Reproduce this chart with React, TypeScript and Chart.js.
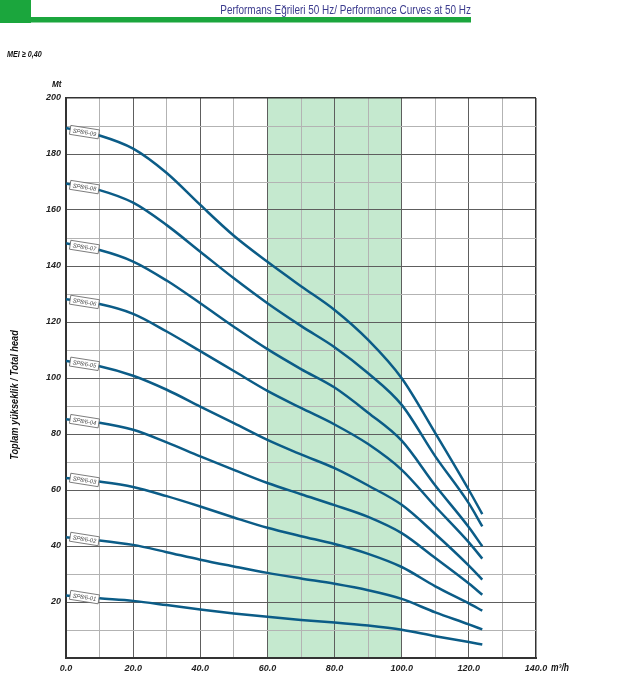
import React, { useEffect, useRef } from "react";
import { Chart, registerables } from "chart.js";

Chart.register(...registerables);

const flows = [0, 10, 20, 30, 40, 50, 60, 70, 80, 90, 100, 110, 120, 124];
const head09 = [189.3, 186.6, 181.9, 173.2, 161.8, 150.8, 141.5, 132.8, 124.3, 113.6, 99.9, 80.3, 60.0, 51.4];
const head08 = [169.5, 167.1, 162.6, 154.6, 145.1, 135.6, 126.7, 118.6, 111, 101.7, 90.4, 72.0, 55.2, 47.0];
const head07 = [148.1, 145.7, 141.6, 134.8, 126.7, 118.3, 110.3, 103.2, 96.6, 87.6, 77.6, 61.6, 46.7, 39.9];
const head06 = [128.1, 126.4, 122.9, 116.6, 109.6, 102.5, 95.4, 89.3, 83.4, 76.4, 67.2, 54.1, 41.3, 35.5];
const head05 = [106.1, 104.2, 100.8, 95.8, 89.8, 83.9, 77.9, 72.7, 67.8, 61.6, 54.7, 44.3, 33.0, 28.0];
const head04 = [85.3, 84.0, 81.5, 77.0, 72.0, 67.2, 62.5, 58.5, 54.6, 50.4, 44.6, 35.7, 26.6, 22.6];
const head03 = [64.3, 63.0, 61.1, 57.8, 54.1, 50.2, 46.5, 43.5, 40.7, 37.2, 32.5, 25.6, 19.5, 16.9];
const head02 = [43.1, 42.0, 40.4, 37.8, 35.1, 32.7, 30.4, 28.4, 26.5, 24.2, 21.1, 16.3, 12.0, 10.2];
const head01 = [22.3, 21.3, 20.4, 18.9, 17.3, 15.9, 14.7, 13.6, 12.7, 11.6, 10.1, 7.8, 5.7, 4.8];

const modelNames = ["SP8/6-09", "SP8/6-08", "SP8/6-07", "SP8/6-06", "SP8/6-05", "SP8/6-04", "SP8/6-03", "SP8/6-02", "SP8/6-01"];
const heads = [head09, head08, head07, head06, head05, head04, head03, head02, head01];

const bandRange = [60, 100];
const titleText = "Performans Eğrileri 50 Hz/ Performance Curves at 50 Hz";
const meiText = "MEI ≥ 0,40";
const yUnit = "Mt";
const xUnit = "m³/h";
const yTitle = "Toplam yükseklik / Total head";

const FONT = '"Liberation Sans", Arial, sans-serif';
const CURVE = "#0b5c87";

function condensedText(ctx: any, text: string, x: number, y: number, sx: number, align: string) {
  ctx.save();
  ctx.translate(x, y);
  ctx.scale(sx, 1);
  ctx.textAlign = align;
  ctx.fillText(text, 0, 0);
  ctx.restore();
}

const decorPlugin = {
  id: "decor",
  beforeDraw(chart: any) {
    const { ctx, chartArea, scales } = chart;
    ctx.save();
    ctx.fillStyle = "#ffffff";
    ctx.fillRect(0, 0, chart.width, chart.height);
    const x0 = scales.x.getPixelForValue(bandRange[0]);
    const x1 = scales.x.getPixelForValue(bandRange[1]);
    ctx.fillStyle = "#c5e9cf";
    ctx.fillRect(x0, chartArea.top, x1 - x0, chartArea.bottom - chartArea.top);
    // header
    ctx.fillStyle = "#1ba63d";
    ctx.fillRect(0, 0, 31, 23);
    ctx.fillRect(0, 17, 471, 5.5);
    ctx.fillStyle = "#3c3c8e";
    ctx.font = "12px " + FONT;
    ctx.textBaseline = "alphabetic";
    condensedText(ctx, titleText, 471, 13.5, 0.83, "right");
    ctx.fillStyle = "#111";
    ctx.font = "bold italic 9px " + FONT;
    condensedText(ctx, meiText, 7, 57, 0.8, "left");
    condensedText(ctx, yUnit, 52, 87, 0.9, "left");
    ctx.font = "bold italic 10px " + FONT;
    condensedText(ctx, xUnit, 551, 671, 0.85, "left");
    ctx.save();
    ctx.translate(18, 395);
    ctx.rotate(-Math.PI / 2);
    ctx.font = "bold italic 10px " + FONT;
    condensedText(ctx, yTitle, 0, 0, 0.92, "center");
    ctx.restore();
    ctx.restore();
  },
  afterDatasetsDraw(chart: any) {
    const { ctx, scales } = chart;
    const lx = 5.5;
    ctx.save();
    chart.data.datasets.forEach((ds: any, i: number) => {
      const d = ds.data;
      const t = (lx - d[0].x) / (d[1].x - d[0].x);
      const v = d[0].y + (d[1].y - d[0].y) * t;
      const px = scales.x.getPixelForValue(lx);
      const py = scales.y.getPixelForValue(v);
      ctx.save();
      ctx.translate(px, py);
      ctx.rotate((9 * Math.PI) / 180);
      ctx.fillStyle = "#ffffff";
      ctx.fillRect(-14.5, -4.5, 29, 9);
      ctx.strokeStyle = "#666";
      ctx.lineWidth = 0.8;
      ctx.strokeRect(-14.5, -4.5, 29, 9);
      ctx.fillStyle = "#444";
      ctx.font = "italic 6px " + FONT;
      ctx.textBaseline = "middle";
      condensedText(ctx, modelNames[i], 0, 0.5, 0.95, "center");
      ctx.restore();
    });
    ctx.restore();
  },
};

export default function App() {
  const ref = useRef<HTMLCanvasElement | null>(null);
  useEffect(() => {
    if (!ref.current) return;
    const datasets = heads.map((h, i) => ({
      label: modelNames[i],
      data: flows.map((f, j) => ({ x: f, y: h[j] })),
      borderColor: CURVE,
      borderWidth: 2.5,
      pointRadius: 0,
      fill: false,
      cubicInterpolationMode: "monotone" as const,
    }));
    const tickFont = { family: FONT, size: 9, weight: "bold" as const, style: "italic" as const };
    const chart = new Chart(ref.current, {
      type: "line",
      data: { datasets },
      options: {
        animation: false,
        responsive: false,
        devicePixelRatio: 1,
        layout: { padding: { top: 98, right: 93, left: 0, bottom: 0 } },
        plugins: { legend: { display: false }, tooltip: { enabled: false } },
        scales: {
          x: {
            type: "linear",
            min: 0,
            max: 140,
            afterFit: (s: any) => {
              s.height = 17;
            },
            border: { display: true, color: "#333", width: 2 },
            grid: {
              drawTicks: false,
              color: (c: any) => (c.tick.value === 140 ? "#333" : c.tick.value % 20 === 0 ? "#5e5e5e" : "#b3b3b3"),
              lineWidth: (c: any) => (c.tick.value === 140 ? 1.5 : 1),
            },
            ticks: {
              stepSize: 10,
              autoSkip: false,
              maxRotation: 0,
              padding: 5,
              color: "#222",
              font: tickFont,
              callback: (v: any) => (Number(v) % 20 === 0 ? Number(v).toFixed(1) : ""),
            },
          },
          y: {
            min: 0,
            max: 200,
            afterFit: (s: any) => {
              s.width = 66;
            },
            border: { display: true, color: "#333", width: 2 },
            grid: {
              drawTicks: false,
              color: (c: any) => (c.tick.value === 200 ? "#333" : c.tick.value % 20 === 0 ? "#5e5e5e" : "#b3b3b3"),
              lineWidth: (c: any) => (c.tick.value === 200 ? 1.5 : 1),
            },
            ticks: {
              stepSize: 10,
              autoSkip: false,
              padding: 5,
              color: "#222",
              font: tickFont,
              callback: (v: any) => (Number(v) % 20 === 0 && Number(v) !== 0 ? String(v) : ""),
            },
          },
        },
      },
      plugins: [decorPlugin],
    });
    return () => chart.destroy();
  }, []);
  return (
    <div style={{ position: "absolute", left: 0, top: 0, width: 629, height: 675 }}>
      <canvas ref={ref} width={629} height={675} style={{ display: "block", width: 629, height: 675 }} />
    </div>
  );
}
